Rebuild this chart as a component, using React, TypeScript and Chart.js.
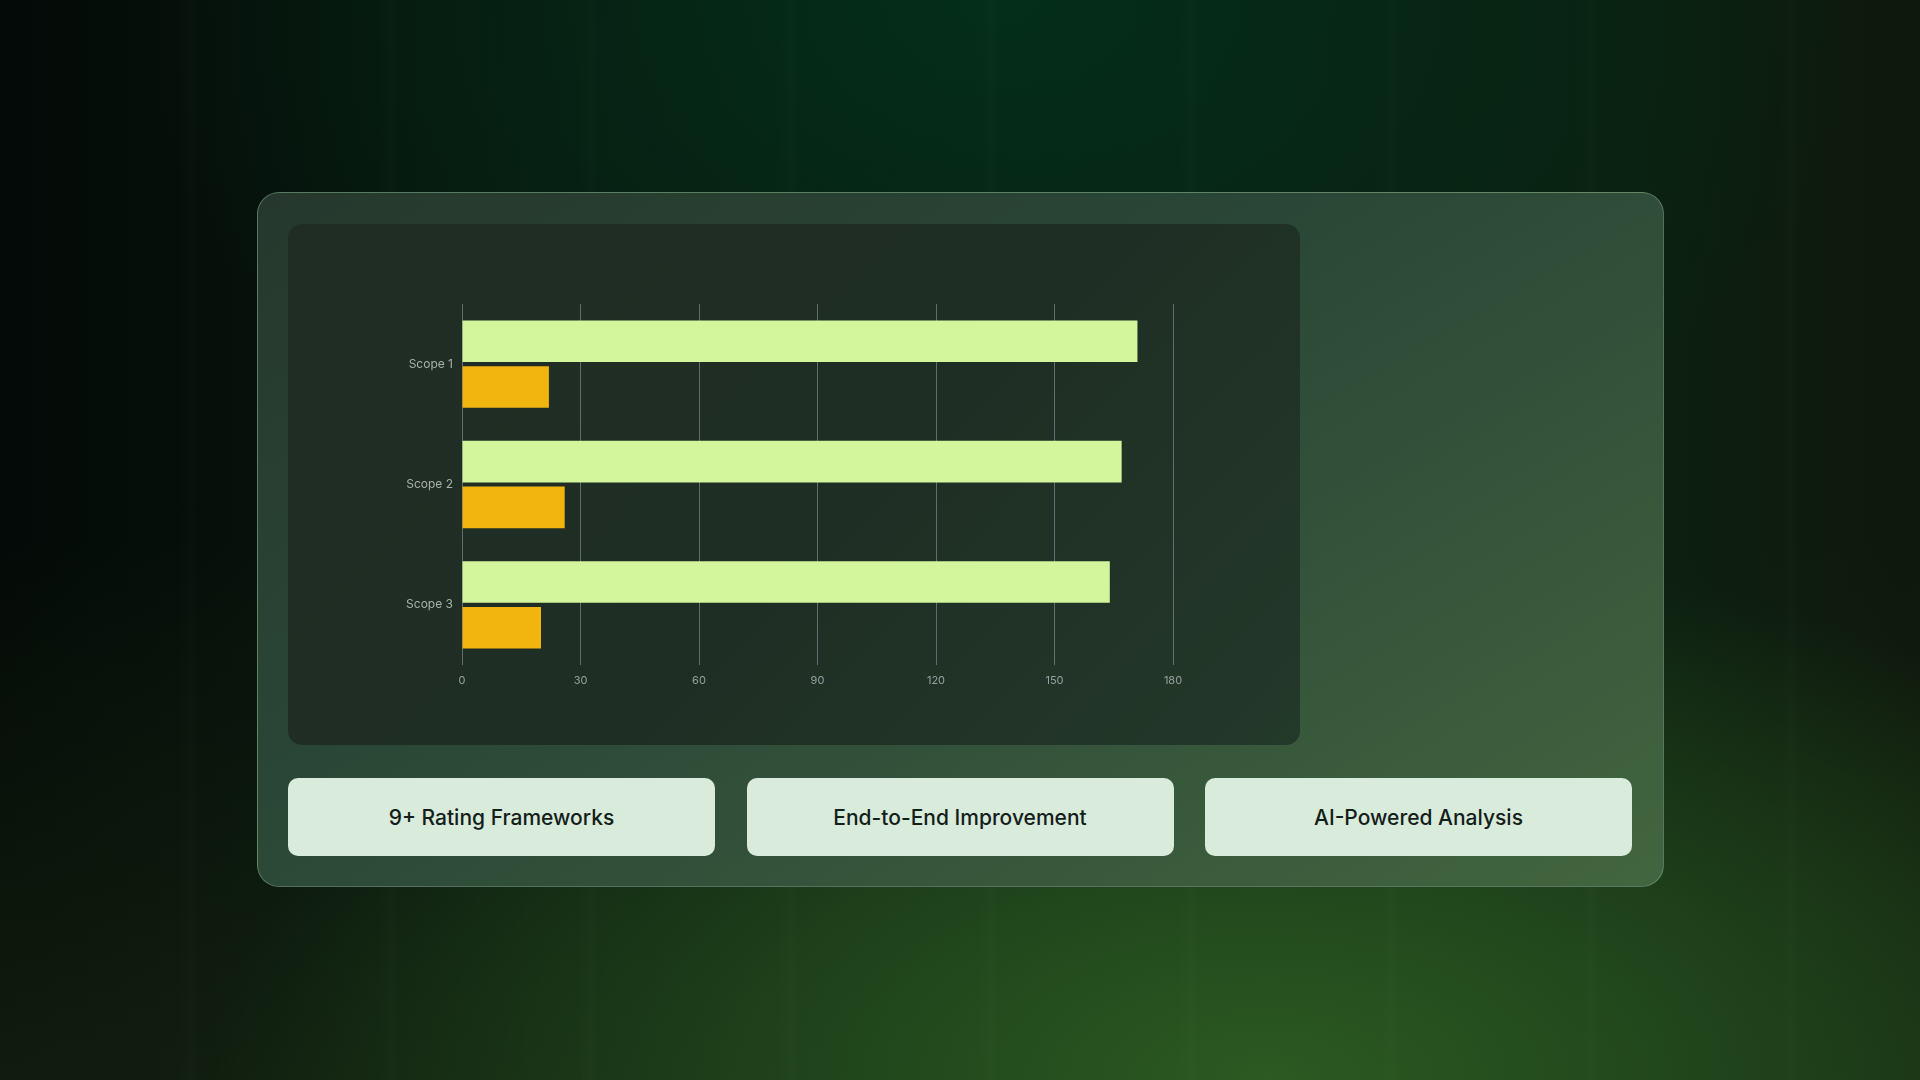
import React, { useEffect, useRef } from "react";
import { Chart, registerables } from "chart.js";

Chart.register(...registerables);

const categories = ["Scope 1", "Scope 2", "Scope 3"];
const seriesA = [171, 167, 164];
const seriesB = [22, 26, 20];
const xTicks = [0, 30, 60, 90, 120, 150, 180];
const features = ["9+ Rating Frameworks", "End-to-End Improvement", "AI-Powered Analysis"];

const FONT = "Inter, 'Noto Sans', sans-serif";

function BarChart() {
  const ref = useRef<HTMLCanvasElement | null>(null);
  useEffect(() => {
    if (!ref.current) return;
    const chart = new Chart(ref.current, {
      type: "bar",
      data: {
        labels: categories,
        datasets: [
          {
            label: "A",
            data: seriesA,
            backgroundColor: "#d3f59b",
            borderWidth: 0,
            categoryPercentage: 0.76,
            barPercentage: 0.91,
          },
          {
            label: "B",
            data: seriesB,
            backgroundColor: "#f2b50f",
            borderWidth: 0,
            categoryPercentage: 0.76,
            barPercentage: 0.91,
          },
        ],
      },
      options: {
        indexAxis: "y",
        animation: false,
        responsive: false,
        maintainAspectRatio: false,
        layout: { padding: { left: 0, right: 127, top: 80, bottom: 0 } },
        plugins: { legend: { display: false }, tooltip: { enabled: false } },
        scales: {
          x: {
            min: xTicks[0],
            max: xTicks[xTicks.length - 1],
            afterBuildTicks: (scale: any) => {
              scale.ticks = xTicks.map((v) => ({ value: v }));
            },
            afterFit: (scale: any) => {
              scale.height = 80;
            },
            grid: {
              display: true,
              color: "rgba(150,162,168,0.55)",
              lineWidth: 1,
              drawTicks: false,
            },
            border: { display: false },
            ticks: {
              color: "#97a19f",
              font: { family: FONT, size: 11 },
              padding: 9,
            },
          },
          y: {
            afterFit: (scale: any) => {
              scale.width = 174;
            },
            grid: { display: false, drawTicks: false },
            border: { display: false },
            ticks: {
              color: "#a9b1ad",
              font: { family: FONT, size: 12 },
              padding: 9,
            },
          },
        },
      },
    });
    return () => chart.destroy();
  }, []);
  return <canvas ref={ref} width={1012} height={521} style={{ display: "block", width: 1012, height: 521 }} />;
}

export default function App() {
  useEffect(() => {
    document.body.style.margin = "0";
  }, []);
  return (
    <div
      style={{
        position: "fixed",
        left: 0,
        top: 0,
        width: 1920,
        height: 1080,
        overflow: "hidden",
        fontFamily: FONT,
        background:
          "radial-gradient(ellipse 55% 50% at 66% 100%, rgba(44,90,34,1) 0%, rgba(36,78,30,0.8) 40%, rgba(20,50,22,0) 100%)," +
          "radial-gradient(ellipse 45% 55% at 52% 0%, rgba(4,46,26,1) 0%, rgba(4,40,22,0.6) 50%, rgba(4,30,16,0) 100%)," +
          "linear-gradient(180deg, rgba(0,0,0,0) 50%, rgba(24,40,18,0.6) 100%)," +
          "linear-gradient(90deg, #040a07 0%, #081a10 30%, #0b2414 60%, #0c2011 85%, #0e180c 100%)",
      }}
    >
      <div
        style={{
          position: "absolute",
          left: 0,
          top: 0,
          width: 1920,
          height: 1080,
          background:
            "repeating-linear-gradient(90deg, rgba(255,255,255,0) 0px, rgba(255,255,255,0) 180px, rgba(255,255,255,0.012) 190px, rgba(255,255,255,0) 200px)",
        }}
      />
      <div
        style={{
          position: "absolute",
          left: 257,
          top: 192,
          width: 1407,
          height: 695,
          boxSizing: "border-box",
          borderRadius: 22,
          border: "1px solid rgba(140,180,150,0.45)",
          background:
            "linear-gradient(150deg, #26382d 0%, #2a4636 40%, #36553b 70%, #42663f 100%)",
        }}
      >
        <div
          style={{
            position: "absolute",
            left: 30,
            top: 31,
            width: 1012,
            height: 521,
            borderRadius: 14,
            overflow: "hidden",
            background: "linear-gradient(135deg, #202d24 0%, #1f2e24 55%, #23392a 100%)",
          }}
        >
          <BarChart />
        </div>
        {features.map((t, i) => (
          <div
            key={t}
            style={{
              position: "absolute",
              left: 30 + i * 458.5,
              top: 585,
              width: 427,
              height: 78,
              borderRadius: 10,
              background: "#d9ebda",
              display: "flex",
              alignItems: "center",
              justifyContent: "center",
              color: "#13201a",
              fontSize: 21,
              fontWeight: 500,
              fontFamily: FONT,
            }}
          >
            {t}
          </div>
        ))}
      </div>
    </div>
  );
}
